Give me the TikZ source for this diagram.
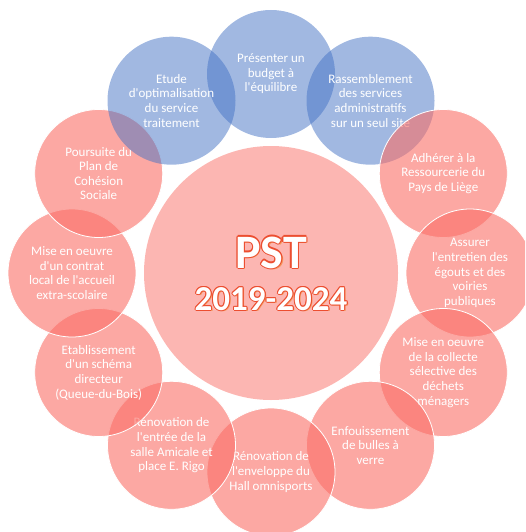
\documentclass[tikz,border=0pt]{standalone}
\usepackage{fontspec}
\setmainfont{Carlito}[Ligatures = TeXOff]
\usepackage{xcolor}
\usepackage{tikz}

\definecolor{pstblue}{RGB}{68,114,196}
\definecolor{pstred}{RGB}{250,110,102}
\definecolor{pstrim}{RGB}{236,78,48}
\definecolor{pstshade}{RGB}{244,150,90}

\begin{document}
\begin{tikzpicture}[x=1pt, y=-1pt,
                every node/.append style = {align = center, text = white, font = \fontsize{13}{14.6}\selectfont},
                goal/.style = {circle, minimum size = 128pt, inner sep = 0pt, fill opacity = #1, text opacity = 1},
                bluegoal/.style = {goal = 0.5, fill = pstblue},
                redgoal/.style = {goal = 0.6, fill = pstred, draw = white, draw opacity = 1, line width = 0.8pt},
                titletext/.style = {anchor = base, font = \bfseries\fontsize{#1}{#1}\selectfont}]
            \useasboundingbox (0,0) rectangle (525,532);
            \clip (0,0) rectangle (525,532);
            % centre
            \node[circle, minimum size = 254pt, fill = pstred, fill opacity = 0.5] (pst) at (271,273) {};
            % goals, clockwise from the top
            \node[bluegoal] (g1) at (271,74) {Présenter un\\budget à\\l'équilibre};
            \node[bluegoal] (g2) at (370.5,100.7) {Rassemblement\\des services\\administratifs\\sur un seul site};
            \node[redgoal] (g3) at (443.3,173.5) {Adhérer à la\\Ressourcerie du\\Pays de Liège};
            \node[redgoal] (g4) at (470,273) {Assurer\\l'entretien des\\égouts et des\\voiries\\publiques};
            \node[redgoal] (g5) at (443.3,372.5) {Mise en oeuvre\\de la collecte\\sélective des\\déchets\\ménagers};
            \node[redgoal] (g6) at (370.5,445.3) {Enfouissement\\de bulles à\\verre};
            \node[redgoal] (g7) at (271,472) {Rénovation de\\l'enveloppe du\\Hall omnisports};
            \node[redgoal] (g8) at (171.5,445.3) {Rénovation de\\l'entrée de la\\salle Amicale et\\place E. Rigo};
            \node[redgoal] (g9) at (98.7,372.5) {Etablissement\\d'un schéma\\directeur\\(Queue-du-Bois)};
            \node[redgoal] (g10) at (72,273) {Mise en oeuvre\\d'un contrat\\local de l'accueil\\extra-scolaire};
            \node[redgoal] (g11) at (98.7,173.5) {Poursuite du\\Plan de\\Cohésion\\Sociale};
            \node[bluegoal] (g12) at (171.5,100.7) {Etude\\d'optimalisation\\du service\\traitement};
            % title with its rim
            \node[titletext = 48, text = pstshade] (pstsh) at ([shift = {(1.4pt,-1.4pt)}]271,268) {PST};
            \node[titletext = 35, text = pstshade] (yearsh) at ([shift = {(1.4pt,-1.4pt)}]271,310) {2019-2024};
            \foreach \a in {0,45,...,315} {
                \node[titletext = 48, text = pstrim] (pstrim\a) at ([shift = {(\a:1.1pt)}]271,268) {PST};
                \node[titletext = 35, text = pstrim] (yearrim\a) at ([shift = {(\a:1pt)}]271,310) {2019-2024};
            }
            \node[titletext = 48] (title) at (271,268) {PST};
            \node[titletext = 35] (years) at (271,310) {2019-2024};
            \end{tikzpicture}
\end{document}
